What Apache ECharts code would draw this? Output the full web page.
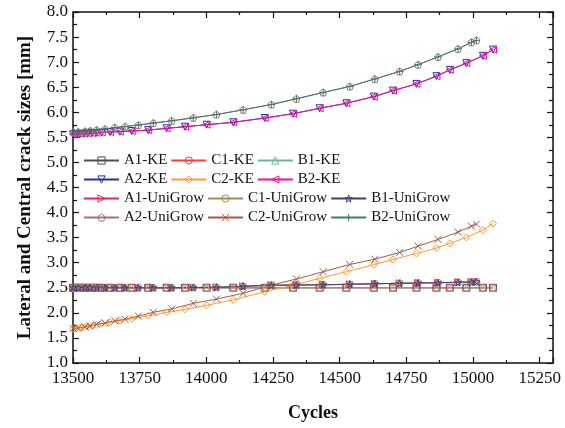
<!DOCTYPE html>
<html>
<head>
<meta charset="utf-8">
<title>Lateral and Central crack sizes</title>
<script src="https://cdn.jsdelivr.net/npm/echarts@6/dist/echarts.min.js"></script>
<style>
  html, body { margin: 0; padding: 0; background: #fff; }
  #chart { width: 565px; height: 428px; }
</style>
</head>
<body>
<div id="chart"></div>
<script>
// Cycle counts of the KE predictions
const keCycles = [13500, 13513, 13526, 13541, 13556, 13571, 13588, 13608, 13639, 13676,
  13720, 13782, 13851, 13920, 14001, 14101, 14219, 14325, 14425, 14525,
  14628, 14700, 14788, 14863, 14913, 14975, 15037, 15075];

// Cycle counts of the UniGrow predictions
const uniCycles = [13501, 13520, 13545, 13564, 13589, 13620, 13657, 13695, 13745, 13801,
  13870, 13951, 14038, 14138, 14244, 14338, 14438, 14538, 14632, 14725,
  14794, 14869, 14944, 14994, 15013];

// Crack sizes [mm], KE
const lateralKE = [2.5, 2.5, 2.5, 2.5, 2.5, 2.5, 2.5, 2.5, 2.5, 2.5,
  2.5, 2.5, 2.5, 2.5, 2.5, 2.5, 2.5, 2.5, 2.5, 2.5,
  2.5, 2.5, 2.5, 2.5, 2.5, 2.5, 2.5, 2.5];
const centralKE = [5.56, 5.565, 5.57, 5.575, 5.58, 5.585, 5.59, 5.597, 5.606, 5.614,
  5.626, 5.645, 5.68, 5.712, 5.752, 5.80, 5.886, 5.972, 6.08, 6.18,
  6.312, 6.432, 6.566, 6.72, 6.846, 6.98, 7.126, 7.25];
const c2KE = [1.68, 1.69, 1.70, 1.715, 1.725, 1.74, 1.76, 1.79, 1.81, 1.845,
  1.88, 1.94, 2.01, 2.07, 2.15, 2.26, 2.42, 2.55, 2.69, 2.82,
  2.96, 3.065, 3.185, 3.29, 3.385, 3.505, 3.65, 3.78];

// Crack sizes [mm], UniGrow
const lateralUni = [2.5, 2.5, 2.5, 2.5, 2.5, 2.5, 2.5, 2.5, 2.5, 2.5,
  2.5, 2.505, 2.51, 2.53, 2.55, 2.555, 2.56, 2.57, 2.58, 2.59,
  2.595, 2.6, 2.61, 2.615, 2.62];
const centralUni = [5.605, 5.61, 5.62, 5.63, 5.645, 5.665, 5.695, 5.715, 5.745, 5.785,
  5.83, 5.89, 5.955, 6.05, 6.155, 6.27, 6.395, 6.515, 6.665, 6.815,
  6.95, 7.105, 7.265, 7.395, 7.435];
const c2Uni = [1.69, 1.70, 1.72, 1.74, 1.77, 1.80, 1.84, 1.875, 1.935, 2.01,
  2.08, 2.19, 2.275, 2.39, 2.555, 2.675, 2.82, 2.965, 3.07, 3.205,
  3.33, 3.465, 3.61, 3.73, 3.77];

// Labelled ticks on the cycle axis
const cycleTicks = [13500, 13750, 14000, 14250, 14500, 14750, 15000, 15250];

// Legend rows (3 entries each)
const legendRows = [
  ['A1-KE', 'C1-KE', 'B1-KE'],
  ['A2-KE', 'C2-KE', 'B2-KE'],
  ['A1-UniGrow', 'C1-UniGrow', 'B1-UniGrow'],
  ['A2-UniGrow', 'C2-UniGrow', 'B2-UniGrow']
];

// Hollow marker outlines
const SHAPES = {
  square: 'path://M0,0L10,0L10,10L0,10Z',
  circle: 'path://M0,5A5,5,0,1,1,10,5A5,5,0,1,1,0,5Z',
  triUp: 'path://M5,0L10,9L0,9Z',
  triDown: 'path://M0,0L10,0L5,9Z',
  triLeft: 'path://M0,5L9,0L9,10Z',
  triRight: 'path://M0,0L9,5L0,10Z',
  diamond: 'path://M5,0L10,5L5,10L0,5Z',
  pentagon: 'path://M5,0L9.76,3.45L7.94,9.05L2.06,9.05L0.24,3.45Z',
  star: 'path://M5,0L6.18,3.38L9.76,3.45L6.9,5.62L7.94,9.05L5,7L2.06,9.05L3.1,5.62L0.24,3.45L3.82,3.38Z',
  cross: 'path://M0,0L10,10M10,0L0,10',
  plus: 'path://M5,0L5,10M0,5L10,5'
};

const seriesDefs = [
  { name: 'A1-KE', x: keCycles, y: lateralKE, color: '#4d4d4d', shape: 'square' },
  { name: 'C1-KE', x: keCycles, y: lateralKE, color: '#ff3b3b', shape: 'circle' },
  { name: 'B1-KE', x: keCycles, y: lateralKE, color: '#6fb59c', shape: 'triUp' },
  { name: 'A2-KE', x: keCycles, y: centralKE, color: '#2e2ea0', shape: 'triDown' },
  { name: 'C2-KE', x: keCycles, y: c2KE, color: '#ff9a2e', shape: 'diamond' },
  { name: 'B2-KE', x: keCycles, y: centralKE, color: '#f0109b', shape: 'triLeft' },
  { name: 'A1-UniGrow', x: uniCycles, y: lateralUni, color: '#f2215f', shape: 'triRight' },
  { name: 'C1-UniGrow', x: uniCycles, y: lateralUni, color: '#9c8f52', shape: 'circle' },
  { name: 'B1-UniGrow', x: uniCycles, y: lateralUni, color: '#3d3d80', shape: 'star' },
  { name: 'A2-UniGrow', x: uniCycles, y: centralUni, color: '#a06f88', shape: 'pentagon' },
  { name: 'C2-UniGrow', x: uniCycles, y: c2Uni, color: '#a05c48', shape: 'cross' },
  { name: 'B2-UniGrow', x: uniCycles, y: centralUni, color: '#3f7d5c', shape: 'plus' }
];

const FONT = '"Liberation Serif", "Times New Roman", serif';
const CLEAR = 'rgba(255,255,255,0)';

const series = seriesDefs.map(d => ({
  name: d.name,
  type: 'line',
  data: d.x.map((c, i) => [c, d.y[i]]),
  symbol: SHAPES[d.shape],
  symbolSize: 7,
  showAllSymbol: true,
  lineStyle: { color: d.color, width: 1 },
  itemStyle: { color: CLEAR, borderColor: d.color, borderWidth: 1 },
  emphasis: { disabled: true },
  animation: false
}));

const colorOf = name => seriesDefs.find(d => d.name === name).color;

const legendTops = [153, 172, 191, 210];
const legend = legendRows.map((row, r) => ({
  data: row.map(name => ({
    name: name,
    itemStyle: { color: CLEAR, borderColor: colorOf(name), borderWidth: 1 }
  })),
  left: 83,
  top: legendTops[r],
  padding: 0,
  orient: 'horizontal',
  itemWidth: 35,
  itemHeight: 9,
  itemGap: 3,
  selectedMode: false,
  textStyle: { fontFamily: FONT, fontSize: 15, color: '#111' }
}));

const tickStyle = { lineStyle: { color: '#111', width: 1.2 } };

const option = {
  backgroundColor: '#fff',
  animation: false,
  grid: { left: 73, right: 12, top: 12, bottom: 65, containLabel: false },
  legend: legend,
  xAxis: [
    {
      type: 'value', position: 'bottom', min: 13500, max: 15300, interval: 250,
      name: 'Cycles', nameLocation: 'middle', nameGap: 41,
      nameTextStyle: { fontFamily: FONT, fontSize: 18, fontWeight: 'bold', color: '#111' },
      axisLine: { show: true, lineStyle: { color: '#111', width: 1.5 } },
      axisTick: Object.assign({ show: true, inside: true, length: 6 }, tickStyle),
      minorTick: Object.assign({ show: true, splitNumber: 2, length: 3 }, tickStyle),
      axisLabel: {
        fontFamily: FONT, fontSize: 17, color: '#111', margin: 7,
        showMinLabel: true, showMaxLabel: true,
        formatter: v => cycleTicks.includes(v) ? String(v) : ''
      },
      splitLine: { show: false }
    },
    {
      type: 'value', position: 'top', min: 13500, max: 15300, interval: 250,
      axisLine: { show: true, lineStyle: { color: '#111', width: 1.5 } },
      axisTick: Object.assign({ show: true, inside: true, length: 6 }, tickStyle),
      minorTick: Object.assign({ show: true, splitNumber: 2, length: 3 }, tickStyle),
      axisLabel: { show: false },
      splitLine: { show: false }
    }
  ],
  yAxis: [
    {
      type: 'value', position: 'left', min: 1, max: 8, interval: 0.5,
      name: 'Lateral and Central crack sizes [mm]', nameLocation: 'middle', nameGap: 38,
      nameRotate: 90,
      nameTextStyle: { fontFamily: FONT, fontSize: 19, fontWeight: 'bold', color: '#111' },
      axisLine: { show: true, lineStyle: { color: '#111', width: 1.5 } },
      axisTick: Object.assign({ show: true, inside: true, length: 6 }, tickStyle),
      minorTick: Object.assign({ show: true, splitNumber: 2, length: 4 }, tickStyle),
      axisLabel: {
        fontFamily: FONT, fontSize: 17, color: '#111', margin: 5,
        formatter: v => v.toFixed(1)
      },
      splitLine: { show: false }
    },
    {
      type: 'value', position: 'right', min: 1, max: 8, interval: 0.5,
      axisLine: { show: true, lineStyle: { color: '#111', width: 1.5 } },
      axisTick: Object.assign({ show: true, inside: true, length: 6 }, tickStyle),
      minorTick: Object.assign({ show: true, splitNumber: 2, length: 4 }, tickStyle),
      axisLabel: { show: false },
      splitLine: { show: false }
    }
  ],
  series: series
};

const chart = echarts.init(document.getElementById('chart'), null, { renderer: 'canvas' });
chart.setOption(option);
</script>
</body>
</html>
